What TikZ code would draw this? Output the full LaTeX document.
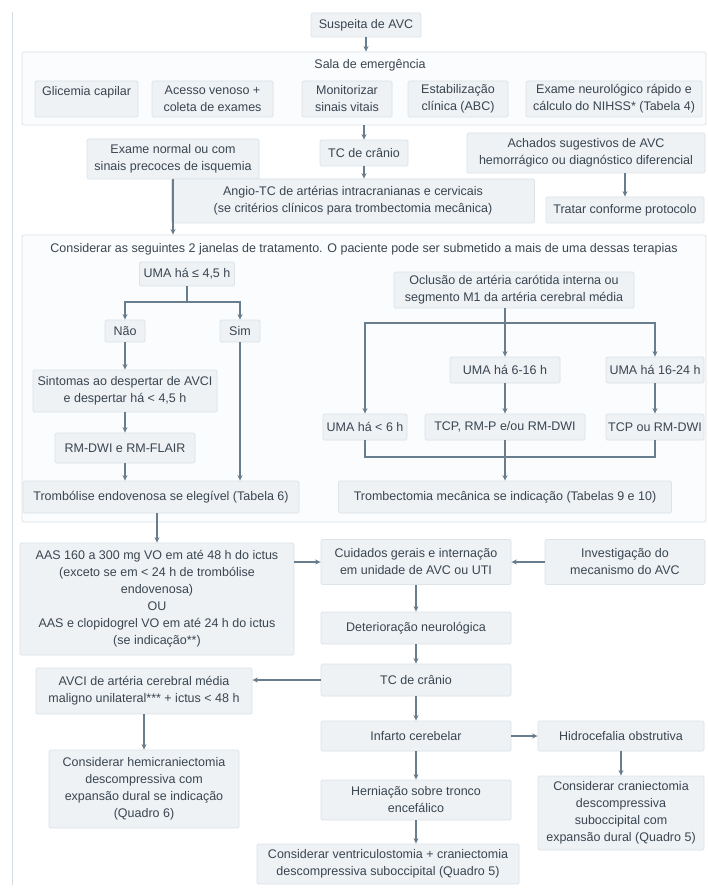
\documentclass[tikz,border=0pt]{standalone}
\usepackage{fontspec}
\setmainfont{Liberation Sans}
\usetikzlibrary{arrows.meta}
\definecolor{boxfill}{HTML}{EEF2F5}
\definecolor{boxline}{HTML}{DCE3E9}
\definecolor{contfill}{HTML}{FBFCFD}
\definecolor{txt}{HTML}{3A4550}
\definecolor{arrc}{HTML}{687D8D}
\definecolor{pageln}{HTML}{D3DBE1}
\newcommand\fsz{\fontsize{12.5}{17}\selectfont}
\begin{document}
\begin{tikzpicture}[x=1pt,y=-1pt,
 bx/.style={draw=boxline, fill=boxfill, line width=0.8pt, rounded corners=1.5pt, align=center, inner sep=0pt, text=txt, font=\fsz},
 cont/.style={draw=boxline, fill=contfill, line width=0.8pt, rounded corners=2pt, inner sep=0pt},
 lbl/.style={align=center, inner sep=0pt, text=txt, font=\fsz},
 arr/.style={draw=arrc, line width=1.1pt, -{Stealth[length=5.5pt,width=5pt]}},
 ln/.style={draw=arrc, line width=1.1pt},
]
\useasboundingbox[fill=white] (0,0) rectangle (708,890);
\draw[pageln, line width=1pt] (12,12) -- (12,885);

% containers
\node[cont, minimum width=684pt, minimum height=73pt] (sala) at (364,88.5) {};
\node[lbl] (salat) at (370,65) {Sala de emergência};
\node[cont, minimum width=684pt, minimum height=287pt] (jan) at (364,378.5) {};
\node[lbl] (jant) at (364,249) {Considerar as seguintes 2 janelas de tratamento. O paciente pode ser submetido a mais de uma dessas terapias};

% top
\node[bx, minimum width=110pt, minimum height=24pt] (sus) at (366,25) {Suspeita de AVC};
\node[bx, minimum width=103pt, minimum height=36pt] (gli) at (86.5,99) {Glicemia capilar\\\mbox{}};
\node[bx, minimum width=121pt, minimum height=36pt] (ace) at (212.5,99) {Acesso venoso +\\coleta de exames};
\node[bx, minimum width=90pt, minimum height=36pt] (mon) at (347,99) {Monitorizar\\sinais vitais};
\node[bx, minimum width=100pt, minimum height=36pt] (est) at (458,99) {Estabilização\\clínica (ABC)};
\node[bx, minimum width=176pt, minimum height=36pt] (exa) at (614,99) {Exame neurológico rápido e\\cálculo do NIHSS* (Tabela 4)};

\node[bx, minimum width=88pt, minimum height=26pt] (tc1) at (364,153) {TC de crânio};
\node[bx, minimum width=172pt, minimum height=40pt] (exn) at (173,159) {Exame normal ou com\\sinais precoces de isquemia};
\node[bx, minimum width=238pt, minimum height=40pt] (ach) at (586,153) {Achados sugestivos de AVC\\hemorrágico ou diagnóstico diferencial};
\node[bx, minimum width=363pt, minimum height=44pt] (ang) at (353,201) {Angio-TC de artérias intracranianas e cervicais\\(se critérios clínicos para trombectomia mecânica)};
\node[bx, minimum width=158pt, minimum height=26pt] (tra) at (625,210) {Tratar conforme protocolo};

% window section
\node[bx, minimum width=95pt, minimum height=24pt] (uma45) at (187,274) {UMA há ≤ 4,5 h};
\node[bx, minimum width=40pt, minimum height=22pt] (nao) at (125,331) {Não};
\node[bx, minimum width=40pt, minimum height=22pt] (sim) at (240,331) {Sim};
\node[bx, minimum width=184pt, minimum height=42pt] (sin) at (125,391) {Sintomas ao despertar de AVCI\\e despertar há < 4,5 h};
\node[bx, minimum width=140pt, minimum height=30pt] (rm) at (125,448) {RM-DWI e RM-FLAIR};
\node[bx, minimum width=276pt, minimum height=32pt] (trl) at (161,497) {Trombólise endovenosa se elegível (Tabela 6)};

\node[bx, minimum width=240pt, minimum height=36pt] (ocl) at (514,290) {Oclusão de artéria carótida interna ou\\segmento M1 da artéria cerebral média};
\node[bx, minimum width=110pt, minimum height=26pt] (u616) at (505,370) {UMA há 6-16 h};
\node[bx, minimum width=98pt, minimum height=26pt] (u1624) at (655,370) {UMA há 16-24 h};
\node[bx, minimum width=84pt, minimum height=26pt] (u6) at (365,427) {UMA há < 6 h};
\node[bx, minimum width=160pt, minimum height=26pt] (tcp1) at (505,427) {TCP, RM-P e/ou RM-DWI};
\node[bx, minimum width=98pt, minimum height=26pt] (tcp2) at (655,427) {TCP ou RM-DWI};
\node[bx, minimum width=333pt, minimum height=32pt] (trm) at (505,497) {Trombectomia mecânica se indicação (Tabelas 9 e 10)};

% lower part
\node[bx, minimum width=274pt, minimum height=112pt] (aas) at (157,599) {AAS 160 a 300 mg VO em até 48 h do ictus\\(exceto se em < 24 h de trombólise\\endovenosa)\\OU\\AAS e clopidogrel VO em até 24 h do ictus\\(se indicação**)};
\node[bx, minimum width=190pt, minimum height=45pt] (cui) at (416,562) {Cuidados gerais e internação\\em unidade de AVC ou UTI};
\node[bx, minimum width=160pt, minimum height=45pt] (inv) at (625,562) {Investigação do\\mecanismo do AVC};
\node[bx, minimum width=190pt, minimum height=32pt] (det) at (416,628) {Deterioração neurológica};
\node[bx, minimum width=190pt, minimum height=32pt] (tc2) at (416,680) {TC de crânio};
\node[bx, minimum width=216pt, minimum height=46pt] (avc) at (144,691) {AVCI de artéria cerebral média\\maligno unilateral*** + ictus < 48 h};
\node[bx, minimum width=190pt, minimum height=78pt] (hem) at (144,789) {Considerar hemicraniectomia\\descompressiva com\\expansão dural se indicação\\(Quadro 6)};
\node[bx, minimum width=190pt, minimum height=30pt] (inf) at (416,736) {Infarto cerebelar};
\node[bx, minimum width=166pt, minimum height=30pt] (hid) at (621,736) {Hidrocefalia obstrutiva};
\node[bx, minimum width=190pt, minimum height=40pt] (her) at (416,800) {Herniação sobre tronco\\encefálico};
\node[bx, minimum width=262pt, minimum height=40pt] (ven) at (388,864) {Considerar ventriculostomia + craniectomia\\descompressiva suboccipital (Quadro 5)};
\node[bx, minimum width=166pt, minimum height=74pt] (cra) at (621,813) {Considerar craniectomia\\descompressiva\\suboccipital com\\expansão dural (Quadro 5)};

% connectors
\draw[arr] (sus.south) -- (sus.south |- sala.north);
\draw[arr] (tc1.north |- sala.south) -- (tc1.north);
\draw[arr] (tc1.south) -- (tc1.south |- ang.north);
\draw[arr] (exn.south) -- (exn.south |- jan.north);
\draw[arr] (tra.north |- ach.south) -- (tra.north);

\coordinate (b1) at (187,302);
\draw[ln] (uma45.south) -- (b1);
\draw[arr] (b1) -| (nao.north);
\draw[arr] (b1) -| (sim.north);
\draw[arr] (nao.south) -- (sin.north -| nao.south);
\draw[arr] (sin.south -| rm.north) -- (rm.north);
\draw[arr] (rm.south) -- (rm.south |- trl.north);
\draw[arr] (sim.south) -- (sim.south |- trl.north);

\coordinate (b2) at (505,323);
\draw[ln] (ocl.south -| b2) -- (b2);
\draw[arr] (b2) -| (u6.north);
\draw[arr] (b2) -- (u616.north);
\draw[arr] (b2) -| (u1624.north);
\draw[arr] (u616.south) -- (tcp1.north);
\draw[arr] (u1624.south) -- (tcp2.north);
\coordinate (b3) at (505,457);
\draw[ln] (u6.south) |- (b3);
\draw[ln] (tcp2.south) |- (b3);
\draw[arr] (tcp1.south) -- (trm.north);

\draw[arr] (aas.north |- trl.south) -- (aas.north);
\draw[arr] (aas.east |- cui.west) -- (cui.west);
\draw[arr] (inv.west) -- (cui.east);
\draw[arr] (cui.south) -- (det.north);
\draw[arr] (det.south) -- (tc2.north);
\draw[arr] (tc2.west) -- (tc2.west -| avc.east);
\draw[arr] (avc.south) -- (avc.south |- hem.north);
\draw[arr] (tc2.south) -- (inf.north);
\draw[arr] (inf.east) -- (hid.west);
\draw[arr] (inf.south) -- (her.north);
\draw[arr] (her.south) -- (her.south |- ven.north);
\draw[arr] (hid.south) -- (hid.south |- cra.north);
\end{tikzpicture}
\end{document}
